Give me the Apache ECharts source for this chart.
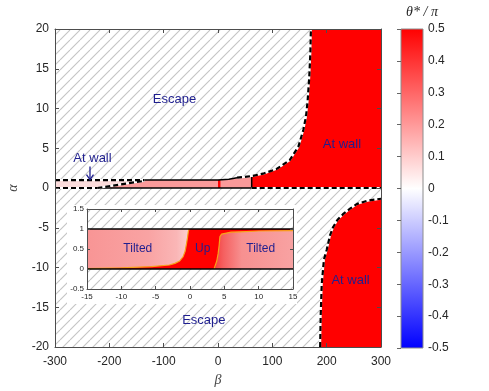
<!DOCTYPE html>
<html>
<head>
<meta charset="utf-8">
<script src="https://cdn.jsdelivr.net/npm/echarts@6/dist/echarts.min.js"></script>
<style>
html, body { margin: 0; padding: 0; background: #fff; }
#chart { width: 489px; height: 391px; }
</style>
</head>
<body>
<div id="chart"></div>
<script>
// main map, beta on x, alpha on y; boundaries
const upperWallEdge = [[35, 1.3], [62, 1.5], [83, 1.8], [108, 2.4], [132, 3.5], [148, 5.2], [157, 7.3], [162, 9], [165, 11], [168, 14], [170, 17], [171, 20]]
const lowerWallEdge = [[188, -20], [189, -16], [191, -12], [195, -9], [200, -7.8], [206, -6], [212, -4.9], [220, -4], [230, -3.3], [243, -2.6], [256, -2.0], [275, -1.6], [300, -1.35]]
const bandTop = [[-135, 1], [0, 1], [20, 1.1], [35, 1.3]]
const bandBottom = [[-222, 0], [62, 0]]
const bandRight = [[62, 0], [62, 1.5]]
const wallSlope = [[-222, 0], [-135, 0.9]]
const leftWallTop = [[-300, 1], [-135, 1]]
const leftWallBottom = [[-300, 0], [-222, 0]]
const rightZeroLine = [[62, 0], [300, 0]]
const leftWallBand = [[-300, 0], [-300, 1], [-135, 1], [-135, 0.9], [-222, 0]]
const tiltedBand = [[-222, 0], [-135, 0.9], ...bandTop, [62, 1.5], [62, 0]]
const upStripe = [[0, 0], [0, 1], [4.5, 1], [4.5, 0]]
const upperWall = [[62, 0], ...upperWallEdge.slice(1), [300, 20], [300, 0]]
const lowerWall = [...lowerWallEdge, [300, -20]]

// inset, zoom on beta in [-15, 15]
const insetLeftEdge = [[-15, 0.01], [-10, 0.03], [-5.6, 0.06], [-3, 0.1], [-2.2, 0.14], [-1.5, 0.2], [-1.0, 0.31], [-0.7, 0.45], [-0.5, 0.64], [-0.35, 0.8], [-0.25, 0.93], [-0.15, 1]]
const insetRightEdge = [[3.5, 0], [3.65, 0.03], [3.9, 0.2], [4.1, 0.39], [4.25, 0.6], [4.36, 0.81], [4.6, 0.87], [4.85, 0.89], [6, 0.92], [7.3, 0.93], [10, 0.95], [15, 0.96]]
const insetBand = [[-15, 0], [-15, 1], [15, 1], [15, 0]]
const insetLeftTilted = [...insetLeftEdge, [-15, 1]]
const insetRightTilted = [...insetRightEdge, [15, 0]]
const insetZeroLine = [[-15, 0], [15, 0]]
const insetOneLine = [[-15, 1], [15, 1]]

// text labels: [text, beta, alpha]
const mainLabels = [['Escape', -80, 11.2], ['At wall', 228, 5.5], ['At wall', 244, -11.6], ['Escape', -26, -16.7], ['At wall', -231, 3.7]]
const insetLabels = [['Tilted', -7.6, 0.5], ['Up', 1.85, 0.5], ['Tilted', 10.3, 0.5]]
const arrowFrom = [-235.6, 2.7]
const arrowTo = [-235.6, 1.05]

// colorbar
const colorbarMin = -0.5
const colorbarMax = 0.5
const colorbarColors = ['#ff0000', '#ffffff', '#0000ff']

const sans = '"Liberation Sans", Arial, sans-serif'
const serif = '"Liberation Serif", "Times New Roman", serif'
const navy = '#1f1f8f'
const axisGray = '#4d4d4d'

// diagonal hatch used for the "Escape" background
const hatchCanvas = document.createElement('canvas')
hatchCanvas.width = 10
hatchCanvas.height = 10
const hctx = hatchCanvas.getContext('2d')
hctx.fillStyle = '#fff'
hctx.fillRect(0, 0, 10, 10)
hctx.strokeStyle = '#c4c4c4'
hctx.lineWidth = 1.1
for (const o of [-10, 0, 10]) {
  hctx.beginPath()
  hctx.moveTo(o, 10)
  hctx.lineTo(o + 10, 0)
  hctx.stroke()
}
const hatchFill = { type: 'pattern', image: hatchCanvas, repeat: 'repeat' }

function hatch(axis, z) {
  return {
    type: 'custom', xAxisIndex: axis, yAxisIndex: axis, data: [[0, 0]], z: z, silent: true,
    renderItem: (params) => {
      const cs = params.coordSys
      return { type: 'rect', shape: { x: cs.x, y: cs.y, width: cs.width, height: cs.height }, style: { fill: hatchFill } }
    }
  }
}

function area(points, fill, axis, z) {
  return {
    type: 'custom', xAxisIndex: axis, yAxisIndex: axis, data: [points[0]], z: z, silent: true, clip: true,
    renderItem: (params, api) => ({
      type: 'polygon',
      shape: { points: points.map(p => api.coord(p)) },
      style: { fill: fill }
    })
  }
}

function edge(points, width, dashed, axis, z, color) {
  return {
    type: 'line', xAxisIndex: axis, yAxisIndex: axis, data: points, symbol: 'none', silent: true, z: z,
    lineStyle: { color: color || '#000', width: width, type: dashed ? [5, 3] : 'solid' }
  }
}

// dashed boundary: black dashes over a white line, as in the figure
function dashedEdge(points, axis, z) {
  return [edge(points, 2, false, axis, z, '#fff'), edge(points, 2.2, true, axis, z + 0.5)]
}

function labels(list, axis, size, z) {
  return {
    type: 'custom', xAxisIndex: axis, yAxisIndex: axis, data: list.map(d => [d[1], d[2]]), z: z, silent: true,
    renderItem: (params, api) => {
      const p = api.coord([api.value(0), api.value(1)])
      return {
        type: 'text', x: p[0], y: p[1],
        style: { text: list[params.dataIndex][0], fill: navy, font: size + 'px ' + sans, align: 'center', verticalAlign: 'middle', textAlign: 'center', textVerticalAlign: 'middle' }
      }
    }
  }
}

function axisCommon(extra) {
  return Object.assign({
    type: 'value',
    splitLine: { show: false },
    axisLine: { show: true, onZero: false, lineStyle: { color: axisGray, width: 1 } },
    axisTick: { show: true, inside: true, length: 4, lineStyle: { color: axisGray } },
    axisLabel: { color: '#262626', fontSize: 12, fontFamily: sans }
  }, extra)
}

const chart = echarts.init(document.getElementById('chart'))
chart.setOption({
  animation: false,
  backgroundColor: '#fff',
  grid: [
    { left: 55, top: 29, width: 326, height: 318, containLabel: false, outerBoundsMode: 'none' },
    { left: 87, top: 209, width: 206, height: 80, containLabel: false, outerBoundsMode: 'none' },
    { left: 401, top: 29, width: 22, height: 319, containLabel: false, outerBoundsMode: 'none' }
  ],
  xAxis: [
    axisCommon({ gridIndex: 0, min: -300, max: 300, interval: 100, position: 'bottom', z: 5,
      axisLabel: { color: '#262626', fontSize: 12, fontFamily: sans, margin: 9 },
      name: 'β', nameLocation: 'middle', nameGap: 25,
      nameTextStyle: { fontFamily: serif, fontStyle: 'italic', fontSize: 14, color: '#444' } }),
    axisCommon({ gridIndex: 0, min: -300, max: 300, interval: 100, position: 'top', z: 5, axisLabel: { show: false } }),
    axisCommon({ gridIndex: 1, min: -15, max: 15, interval: 5, position: 'bottom', z: 15,
      axisTick: { show: true, inside: true, length: 3, lineStyle: { color: axisGray } },
      axisLabel: { color: '#262626', fontSize: 8, fontFamily: sans, margin: 4 } }),
    axisCommon({ gridIndex: 1, min: -15, max: 15, interval: 5, position: 'top', z: 15,
      axisTick: { show: true, inside: true, length: 3, lineStyle: { color: axisGray } },
      axisLabel: { show: false } }),
    { type: 'value', gridIndex: 2, min: 0, max: 1, show: false }
  ],
  yAxis: [
    axisCommon({ gridIndex: 0, min: -20, max: 20, interval: 5, position: 'left', z: 5,
      axisLabel: { color: '#262626', fontSize: 12, fontFamily: sans, margin: 6 },
      name: 'α', nameLocation: 'middle', nameRotate: 90, nameGap: 21,
      nameTextStyle: { fontFamily: serif, fontStyle: 'italic', fontSize: 14, color: '#444' } }),
    axisCommon({ gridIndex: 0, min: -20, max: 20, interval: 5, position: 'right', z: 5, axisLabel: { show: false } }),
    axisCommon({ gridIndex: 1, min: -0.5, max: 1.5, interval: 0.5, position: 'left', z: 15,
      axisTick: { show: true, inside: true, length: 3, lineStyle: { color: axisGray } },
      axisLabel: { color: '#262626', fontSize: 8, fontFamily: sans, margin: 3 } }),
    axisCommon({ gridIndex: 1, min: -0.5, max: 1.5, interval: 0.5, position: 'right', z: 15,
      axisTick: { show: true, inside: true, length: 3, lineStyle: { color: axisGray } },
      axisLabel: { show: false } }),
    axisCommon({ gridIndex: 2, min: colorbarMin, max: colorbarMax, interval: 0.1, position: 'right', z: 5,
      axisLine: { show: false },
      axisTick: { show: true, inside: true, length: 4, lineStyle: { color: '#666' } },
      axisLabel: { color: '#262626', fontSize: 12, fontFamily: sans, margin: 5,
        formatter: v => Math.abs(v) < 1e-9 ? '0' : v.toFixed(1) } })
  ],
  graphic: [
    { type: 'rect', x: 67, y: 205, shape: { width: 230, height: 99 }, style: { fill: '#fff' }, z: 10, silent: true },
    { type: 'text', x: 422, y: 12, z: 10, silent: true,
      style: { text: 'θ* / π', font: 'italic 14px ' + serif, fill: '#262626', align: 'center', verticalAlign: 'middle', textAlign: 'center', textVerticalAlign: 'middle' } }
  ],
  series: [
    // main map
    hatch(0, 1),
    area(leftWallBand, '#fbdcdc', 0, 2),
    area(tiltedBand, '#fa9a9a', 0, 2),
    area(upStripe, '#ff0000', 0, 2),
    area(upperWall, '#ff0000', 0, 2),
    area(lowerWall, '#ff0000', 0, 2),
    edge(bandTop, 1.5, false, 0, 3),
    edge(bandBottom, 1.5, false, 0, 3),
    edge(bandRight, 1.5, false, 0, 3),
    ...dashedEdge(wallSlope, 0, 3),
    ...dashedEdge(leftWallTop, 0, 3),
    ...dashedEdge(leftWallBottom, 0, 3),
    ...dashedEdge(rightZeroLine, 0, 3),
    ...dashedEdge(upperWallEdge, 0, 3),
    ...dashedEdge(lowerWallEdge, 0, 3),
    labels(mainLabels, 0, 13, 4),
    {
      type: 'custom', xAxisIndex: 0, yAxisIndex: 0, data: [arrowTo], z: 4, silent: true,
      renderItem: (params, api) => {
        const a = api.coord(arrowFrom)
        const b = api.coord(arrowTo)
        const st = { stroke: navy, lineWidth: 1.3, fill: null }
        return {
          type: 'group',
          children: [
            { type: 'polyline', shape: { points: [a, b] }, style: st },
            { type: 'polyline', shape: { points: [[b[0] - 3.5, b[1] - 5], b, [b[0] + 3.5, b[1] - 5]] }, style: st }
          ]
        }
      }
    },
    // inset
    hatch(2, 11),
    area(insetBand, '#ff0000', 2, 12),
    area(insetLeftTilted, {
      type: 'linear', x: 0, y: 0, x2: 1, y2: 0,
      colorStops: [{ offset: 0, color: '#f89595' }, { offset: 0.6, color: '#f9a3a3' }, { offset: 0.88, color: '#fab6b6' }, { offset: 1, color: '#fcd2d2' }]
    }, 2, 12),
    area(insetRightTilted, {
      type: 'linear', x: 0, y: 0, x2: 1, y2: 0,
      colorStops: [{ offset: 0, color: '#f43c3c' }, { offset: 0.12, color: '#f56060' }, { offset: 0.35, color: '#f79090' }, { offset: 1, color: '#f8a2a2' }]
    }, 2, 12),
    edge(insetLeftEdge, 1.2, false, 2, 13, '#f7a21b'),
    edge(insetRightEdge, 1.2, false, 2, 13, '#f7a21b'),
    edge(insetZeroLine, 1.5, false, 2, 13),
    edge(insetOneLine, 1.5, false, 2, 13),
    labels(insetLabels, 2, 12, 14),
    // colorbar
    {
      type: 'custom', xAxisIndex: 4, yAxisIndex: 4, data: [[0, colorbarMin]], z: 2, silent: true,
      renderItem: (params) => {
        const cs = params.coordSys
        return {
          type: 'rect', shape: { x: cs.x, y: cs.y, width: cs.width, height: cs.height },
          style: {
            stroke: '#8c8c8c', lineWidth: 1,
            fill: { type: 'linear', x: 0, y: 0, x2: 0, y2: 1, colorStops: colorbarColors.map((c, i) => ({ offset: i / (colorbarColors.length - 1), color: c })) }
          }
        }
      }
    }
  ]
})
</script>
</body>
</html>
